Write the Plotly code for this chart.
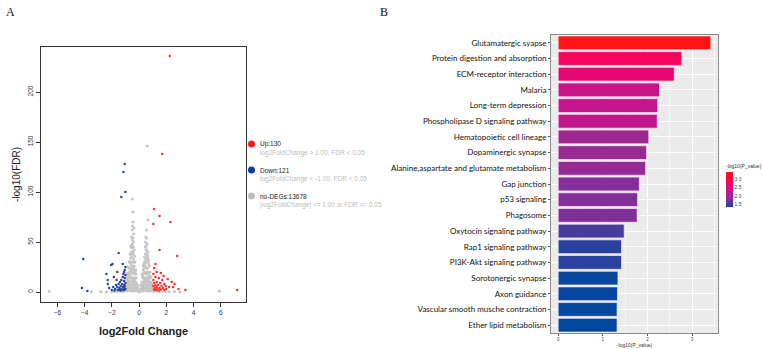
import plotly.graph_objects as go

# ---------------- Volcano data ----------------
gray_x = [-2.0, -1.8, -1.6, -1.4, -1.2, -1.1, 1.1, 1.3, 1.5, 1.7, 1.9, 2.2, -2.4, 2.6, -2.8, 3.0,
          -6.6, 5.9, -3.5, -0.5, 0.6, 0.65,
          -0.95, -0.9, -0.9, -0.85, -0.85, -0.8, -0.8, -0.75, -0.75, -0.7, -0.7, -0.7, -0.65, -0.65,
          -0.6, -0.6, -0.6, -0.6, -0.55, -0.55, -0.55, -0.5, -0.5, -0.5, -0.5, -0.5, -0.45, -0.45,
          -0.45, -0.45, -0.4, -0.4, -0.4, -0.4, -0.35, -0.35, -0.35, -0.3, -0.3, -0.3, -0.25, -0.25,
          -0.2, -0.2, -0.15, -0.15, -0.1, -0.1, -0.05,
          0.1, 0.15, 0.15, 0.2, 0.2, 0.25, 0.25, 0.3, 0.3, 0.35, 0.35, 0.35, 0.4, 0.4, 0.4, 0.45,
          0.45, 0.45, 0.5, 0.5, 0.5, 0.5, 0.55, 0.55, 0.55, 0.6, 0.6, 0.6, 0.65, 0.65, 0.65, 0.7,
          0.7, 0.75, 0.75, 0.8, 0.8, 0.85, 0.9, 0.9, 0.95, 0.05, 0.0,
          -0.9, -0.7, -0.5, -0.3, 0.3, 0.5, 0.7, 0.9,
          -0.92, -0.82, -0.72, -0.62, -0.52, -0.42, -0.32, -0.22, -0.12,
          0.12, 0.22, 0.32, 0.42, 0.52, 0.62, 0.72, 0.82, 0.92,
          -0.88, -0.78, -0.68, -0.58, -0.48, -0.38, -0.28, 0.28, 0.38, 0.48, 0.58, 0.68, 0.78, 0.88,
          -0.47, -0.57, -0.37, 0.47, 0.57, 0.43, -0.43, -0.53, 0.53, -0.63, 0.63]
gray_y = [0.3, 0.8, 0.5, 1.0, 0.4, 1.2, 0.6, 1.1, 0.3, 0.9, 0.4, 0.2, 0.1, 0.5, 0.2, 0.1,
          0.5, 0.8, 0.2, 93, 146, 72,
          2, 5, 12, 18, 8, 3, 25, 14, 6, 30, 20, 10, 2, 38,
          45, 28, 15, 7, 55, 35, 22, 62, 48, 30, 12, 4, 80, 70,
          40, 25, 58, 33, 18, 8, 42, 26, 12, 30, 20, 5, 22, 10,
          14, 4, 8, 2, 4, 1, 0.5,
          3, 6, 1, 10, 3, 15, 6, 22, 10, 28, 14, 4, 35, 20, 8, 45,
          26, 12, 55, 38, 18, 5, 62, 30, 10, 48, 24, 14, 40, 20, 6, 32,
          16, 26, 10, 20, 5, 14, 9, 3, 5, 0.5, 0.2,
          1, 1.5, 0.8, 1.2, 0.9, 1.5, 0.7, 1.3,
          9, 16, 24, 34, 40, 50, 36, 18, 6,
          7, 18, 26, 30, 42, 36, 28, 16, 7,
          4, 11, 17, 21, 26, 22, 14, 17, 28, 33, 20, 12, 8, 4,
          52, 40, 64, 50, 42, 30, 45, 44, 33, 24, 34]

# denser core of the grey cloud (left and right lobes)
gray_core_x = [-0.98, -0.86, -0.74, -0.62, -0.5, -0.38, -0.26, -0.16,
               -0.96, -0.84, -0.72, -0.6, -0.48, -0.36, -0.24,
               -0.94, -0.82, -0.7, -0.58, -0.46, -0.34, -0.22,
               -0.9, -0.78, -0.66, -0.54, -0.42, -0.3,
               -0.88, -0.76, -0.64, -0.52, -0.4, -0.28,
               -0.82, -0.7, -0.58, -0.46, -0.34,
               -0.78, -0.66, -0.54, -0.42,
               -0.72, -0.6, -0.48, -0.36,
               -0.66, -0.54, -0.42,
               -0.6, -0.48,
               -0.5, -0.44,
               -0.48,
               0.14, 0.26, 0.38, 0.5, 0.62, 0.74, 0.86, 0.98,
               0.22, 0.34, 0.46, 0.58, 0.7, 0.82, 0.94,
               0.2, 0.32, 0.44, 0.56, 0.68, 0.8, 0.92,
               0.28, 0.4, 0.52, 0.64, 0.76, 0.88,
               0.3, 0.42, 0.54, 0.66, 0.78,
               0.34, 0.46, 0.58, 0.7,
               0.38, 0.5, 0.62,
               0.42, 0.54, 0.66,
               0.46, 0.58,
               0.52,
               0.56]
gray_core_y = [2, 2, 2, 2, 2, 2, 2, 2,
               4, 4, 4, 4, 4, 4, 4,
               7, 7, 7, 7, 7, 7, 7,
               10, 10, 10, 10, 10, 10,
               14, 14, 14, 14, 14, 14,
               19, 19, 19, 19, 19,
               24, 24, 24, 24,
               30, 30, 30, 30,
               38, 38, 38,
               46, 46,
               54, 54,
               66,
               2, 2, 2, 2, 2, 2, 2, 2,
               4, 4, 4, 4, 4, 4, 4,
               7, 7, 7, 7, 7, 7, 7,
               10, 10, 10, 10, 10, 10,
               14, 14, 14, 14, 14,
               19, 19, 19, 19,
               24, 24, 24,
               30, 30, 30,
               38, 38,
               46,
               54]

blue_x = [-1.05, -1.15, -1.0, -1.3, -4.1, -4.2, -3.8, -1.5, -1.95, -2.05, -1.0, -1.05, -1.1, -1.15,
          -1.0, -1.2, -1.05, -1.3, -1.1, -1.4, -1.0, -1.25, -1.5, -1.1, -1.7, -1.35, -1.05, -1.6,
          -1.2, -1.9, -1.45, -1.1, -2.2, -1.3, -1.75, -1.0, -1.55, -1.2, -2.0, -1.4, -1.1, -1.8,
          -1.35, -2.3, -2.3, -1.6, -1.85, -2.4, -1.65, -1.2]
blue_y = [128, 120, 100, 95, 33, 4, 1, 39, 28, 27, 25, 22, 20, 18,
          17, 15, 14, 12, 11, 10, 9, 8, 8, 7, 7, 6, 6, 5,
          5, 5, 4, 4, 4, 3, 3, 3, 2, 2, 2, 2, 2, 1.6,
          1.5, 12, 8, 20, 15, 18, 12, 28]

red_x = [2.25, 1.7, 1.1, 1.05, 1.5, 2.3, 1.5, 2.8, 1.2, 1.1, 1.3, 1.05, 1.6, 1.8, 1.2, 1.45,
         1.05, 1.7, 1.3, 1.1, 1.55, 1.85, 1.2, 1.4, 1.65, 1.05, 1.95, 1.3, 1.5, 1.15, 1.75, 2.0,
         1.35, 1.1, 1.6, 1.25, 1.85, 1.45, 2.2, 2.5, 2.9, 3.4, 7.2, 2.6, 2.4, 2.1]
red_y = [236, 138, 83, 68, 76, 70, 42, 36, 28, 24, 20, 18, 19, 16, 15, 14,
         12, 12, 10, 9, 9, 8, 7, 7, 6, 6, 6, 5, 4, 4, 4, 3,
         3, 2.5, 2.5, 2, 2, 1.6, 5, 5, 3, 2, 2, 8, 10, 13]

legend_titles = ["Up:130", "Down:121", "no-DEGs:13678"]
legend_rules = ["log2FoldChange > 1.00, FDR < 0.05",
                "log2FoldChange < -1.00, FDR < 0.05",
                "|log2FoldChange| <= 1.00 or FDR >= 0.05"]
legend_colors = ["#FF1A1A", "#0A3C9E", "#BEBEBE"]

volcano_xticks = [-6, -4, -2, 0, 2, 4, 6]
volcano_yticks = [0, 50, 100, 150, 200]

# ---------------- KEGG enrichment data ----------------
pathways = ["Glutamatergic syapse", "Protein digestion and absorption", "ECM-receptor interaction",
            "Malaria", "Long-term depression", "Phospholipase D signaling pathway",
            "Hematopoietic cell lineage", "Dopaminergic synapse",
            "Alanine,aspartate and glutamate metabolism", "Gap junction", "p53 signaling",
            "Phagosome", "Oxytocin signaling pathway", "Rap1 signaling pathway",
            "PI3K-Akt signaling pathway", "Sorotonergic synapse", "Axon guidance",
            "Vascular smooth musche contraction", "Ether lipid metabolism"]
neglog10p = [3.42, 2.77, 2.60, 2.27, 2.23, 2.22, 2.03, 1.98, 1.96, 1.82, 1.78, 1.77,
             1.48, 1.42, 1.42, 1.34, 1.33, 1.32, 1.32]
bar_xticks = [0, 1, 2, 3]
cbar_ticks = [1.5, 2.0, 2.5, 3.0]

colorscale = [[0.0, "#0047A0"], [0.08, "#483C9C"], [0.24, "#8A2E98"], [0.34, "#A02890"],
              [0.43, "#C4168C"], [0.61, "#E6056E"], [0.69, "#F50560"], [1.0, "#FF1414"]]

W, H = 763, 349

fig = go.Figure()

fig.add_trace(go.Scatter(x=gray_x + gray_core_x, y=gray_y + gray_core_y, mode="markers",
                         xaxis="x", yaxis="y",
                         marker=dict(color="#C6C6C6", size=3), showlegend=False, hoverinfo="skip"))
fig.add_trace(go.Scatter(x=blue_x, y=blue_y, mode="markers", xaxis="x", yaxis="y",
                         marker=dict(color="#2A48A8", size=2.5), showlegend=False))
fig.add_trace(go.Scatter(x=red_x, y=red_y, mode="markers", xaxis="x", yaxis="y",
                         marker=dict(color="#FF3030", size=2.5), showlegend=False))

fig.add_trace(go.Bar(
    x=neglog10p, y=pathways, orientation="h", xaxis="x2", yaxis="y2", width=0.88,
    marker=dict(color=neglog10p, colorscale=colorscale, cmin=1.32, cmax=3.44,
                line=dict(color="rgba(255,235,245,0.9)", width=0.8),
                colorbar=dict(title=dict(text="-log10(P_value)", side="top",
                                         font=dict(size=5, color="#333", family="Liberation Sans")),
                              x=726 / W, xanchor="left", y=1 - 207 / H, yanchor="bottom",
                              len=46, lenmode="pixels", thickness=7, outlinewidth=0,
                              xpad=0, ypad=0,
                              tickvals=cbar_ticks, ticktext=["1.5", "2.0", "2.5", "3.0"],
                              ticks="outside", ticklen=1, tickcolor="#fff",
                              tickfont=dict(size=5, color="#444", family="Liberation Sans"))),
    showlegend=False))

axis_font = dict(family="Liberation Sans", size=6.5, color="#333")

fig.update_layout(
    width=W, height=H, margin=dict(l=0, r=0, t=0, b=0),
    paper_bgcolor="white", plot_bgcolor="white",
    xaxis=dict(domain=[41 / W, 246 / W], range=[-7.2, 7.85], tickvals=volcano_xticks,
               showgrid=False, zeroline=False, showline=True, linecolor="#333", linewidth=1,
               mirror=True, ticks="outside", ticklen=4, tickcolor="#333", tickfont=axis_font,
               title=dict(text="<b>log2Fold Change</b>", font=dict(family="Liberation Sans", size=11, color="#222"),
                          standoff=12),
               anchor="y"),
    yaxis=dict(domain=[1 - 302 / H, 1 - 47 / H], range=[-10, 245], tickvals=volcano_yticks,
               showgrid=False, zeroline=False, showline=True, linecolor="#333", linewidth=1,
               mirror=True, ticks="outside", ticklen=4, tickcolor="#333", tickfont=axis_font,
               tickangle=-90,
               title=dict(text="-log10(FDR)", font=dict(family="Liberation Sans", size=10, color="#222"),
                          standoff=4),
               anchor="x"),
    xaxis2=dict(domain=[551 / W, 718 / W], range=[-0.16, 3.58], tickvals=bar_xticks,
                showgrid=True, gridcolor="white", gridwidth=0.8, zeroline=False,
                minor=dict(dtick=0.5, showgrid=True, gridcolor="#F5F5F5", gridwidth=0.5),
                showline=True, linecolor="#8A8A8A", linewidth=1, mirror=True,
                ticks="outside", ticklen=2, tickcolor="#555",
                tickfont=dict(family="Liberation Sans", size=4.5, color="#444"),
                title=dict(text="-log10(P_value)", font=dict(family="Liberation Sans", size=5, color="#333"),
                           standoff=2),
                anchor="y2"),
    yaxis2=dict(domain=[1 - 333 / H, 1 - 35 / H], autorange="reversed",
                showgrid=True, gridcolor="white", gridwidth=0.8,
                showline=True, linecolor="#8A8A8A", linewidth=1, mirror=True,
                ticks="outside", ticklen=2, tickcolor="#555",
                tickfont=dict(family="Lato", size=8, color="#111"),
                anchor="x2"),
    font=dict(family="Liberation Sans"),
)

# panel background for the bar chart (ggplot grey)
fig.add_shape(type="rect", xref="x2 domain", yref="y2 domain", x0=0, x1=1, y0=0, y1=1,
              fillcolor="#EBEBEB", line=dict(width=0), layer="below")

# custom legend for the volcano plot
leg_y = [144, 170, 196]
for i in range(3):
    cy = 1 - leg_y[i] / H
    fig.add_shape(type="circle", xref="paper", yref="paper",
                  x0=248 / W, x1=255 / W, y0=cy - 3.5 / H, y1=cy + 3.5 / H,
                  fillcolor=legend_colors[i], line=dict(width=0))
    fig.add_annotation(x=258 / W, y=cy, xref="paper", yref="paper", text=legend_titles[i],
                       showarrow=False, xanchor="left", yanchor="middle",
                       font=dict(family="Liberation Sans", size=6.5, color="#222"))
    fig.add_annotation(x=258 / W, y=cy - 9 / H, xref="paper", yref="paper", text=legend_rules[i],
                       showarrow=False, xanchor="left", yanchor="middle",
                       font=dict(family="Liberation Sans", size=6.5, color="#BDBDBD"))

# panel letters
fig.add_annotation(x=4 / W, y=1 - 12 / H, xref="paper", yref="paper", text="A", showarrow=False,
                   xanchor="left", yanchor="middle", font=dict(family="Liberation Serif", size=12, color="#111"))
fig.add_annotation(x=378 / W, y=1 - 12 / H, xref="paper", yref="paper", text="B", showarrow=False,
                   xanchor="left", yanchor="middle", font=dict(family="Liberation Serif", size=12, color="#111"))

fig.write_html("out.html")
